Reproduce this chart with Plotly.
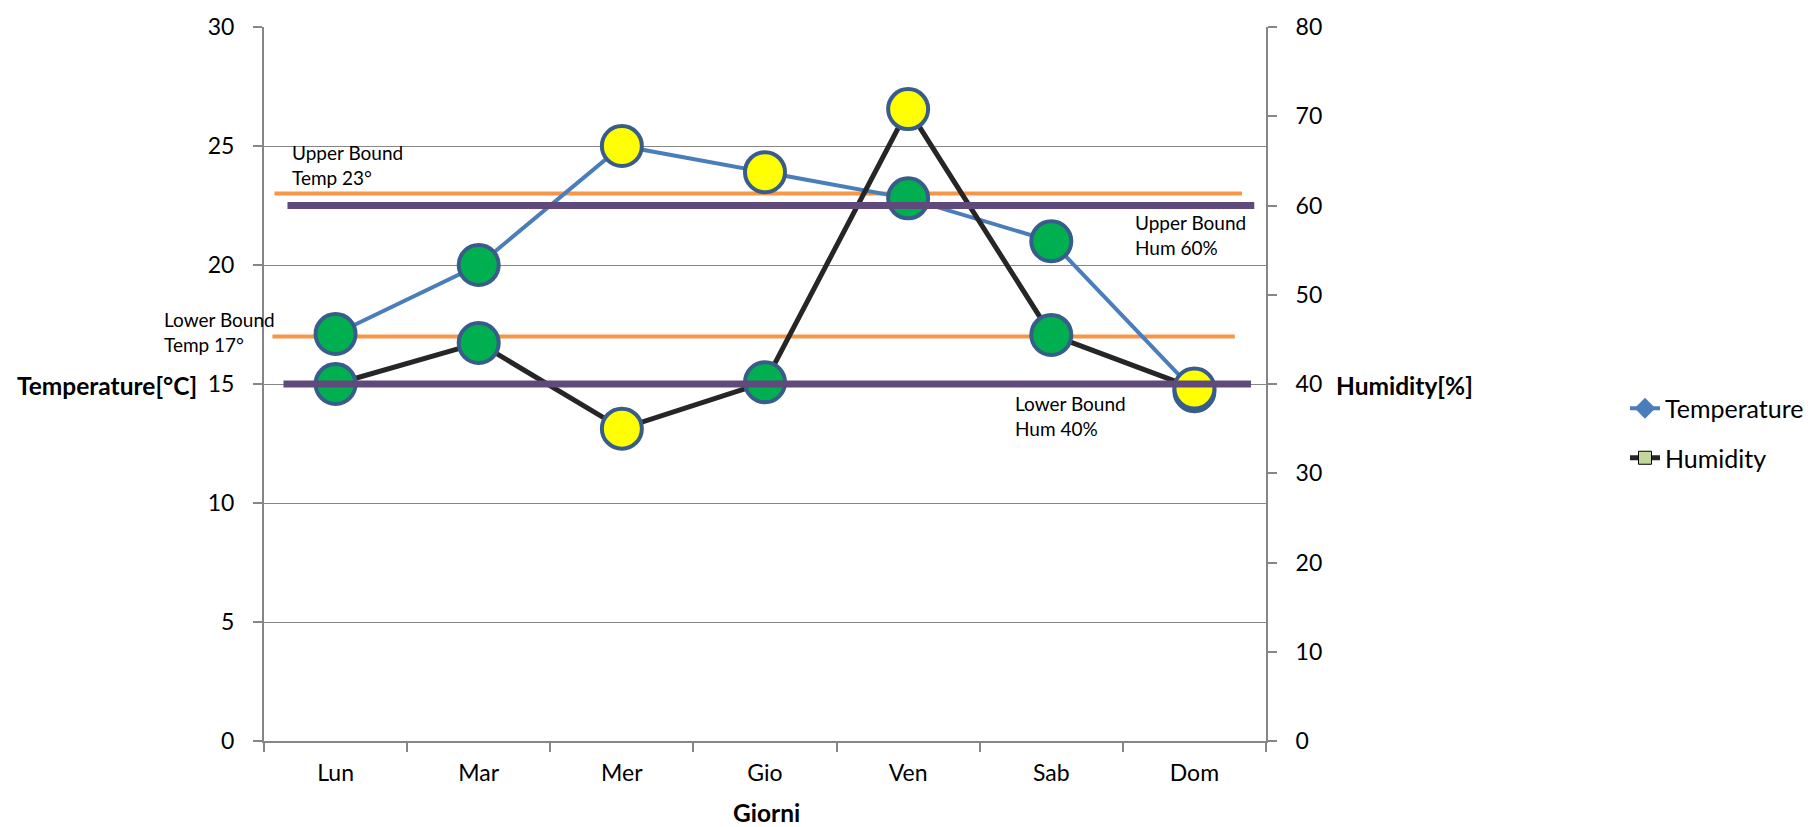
import plotly.graph_objects as go

# ---- data -------------------------------------------------------------
days = ["Lun", "Mar", "Mer", "Gio", "Ven", "Sab", "Dom"]
temperature = [17.1, 20.0, 25.0, 23.9, 22.8, 21.0, 14.7]   # °C
humidity = [40.0, 44.6, 35.0, 40.2, 70.8, 45.5, 39.5]      # %

temp_lower, temp_upper = 17, 23
hum_lower, hum_upper = 40, 60

temp_ticks = [0, 5, 10, 15, 20, 25, 30]
hum_ticks = [0, 10, 20, 30, 40, 50, 60, 70, 80]

# ---- styling ------------------------------------------------------------
FONT = "Lato"
AXIS_GREY = "#868686"
BLUE = "#4A7EBB"
BLACK_LINE = "#262626"
ORANGE = "#F79646"
PURPLE = "#604A7B"
OK_FILL = "#00B050"
OUT_FILL = "#FFFF00"
MARKER_EDGE = "#385D8A"


def status_colors(values, lo, hi):
    return [OK_FILL if lo <= v <= hi else OUT_FILL for v in values]


fig = go.Figure()

# humidity (right axis) drawn first so temperature markers sit on top
fig.add_trace(go.Scatter(
    x=days, y=humidity, yaxis="y2", mode="lines+markers", showlegend=False,
    line=dict(color=BLACK_LINE, width=5),
    marker=dict(size=40, color=status_colors(humidity, hum_lower, hum_upper),
                line=dict(color=MARKER_EDGE, width=4)),
    hoverinfo="x+y",
))
fig.add_trace(go.Scatter(
    x=days, y=temperature, yaxis="y", mode="lines+markers", showlegend=False,
    line=dict(color=BLUE, width=4),
    marker=dict(size=40, color=status_colors(temperature, temp_lower, temp_upper),
                line=dict(color=MARKER_EDGE, width=4)),
    hoverinfo="x+y",
))

# legend entries
fig.add_trace(go.Scatter(
    x=[None], y=[None], mode="lines+markers", name="Temperature",
    legendgroup="t", line=dict(color=BLUE, width=4),
    marker=dict(symbol="diamond", size=16, color=BLUE),
))
fig.add_trace(go.Scatter(
    x=[None], y=[None], mode="lines+markers", name="Humidity",
    legendgroup="h", line=dict(color=BLACK_LINE, width=5),
    marker=dict(symbol="square", size=13, color="#C3D69B",
                line=dict(color="#000000", width=1)),
))

# threshold lines
shapes = [
    dict(type="line", xref="x", yref="y", x0=-0.427, x1=6.332,
         y0=temp_upper, y1=temp_upper, line=dict(color=ORANGE, width=4),
         layer="between"),
    dict(type="line", xref="x", yref="y", x0=-0.441, x1=6.282,
         y0=temp_lower, y1=temp_lower, line=dict(color=ORANGE, width=4),
         layer="between"),
    dict(type="line", xref="x", yref="y2", x0=-0.336, x1=6.418,
         y0=hum_upper, y1=hum_upper, line=dict(color=PURPLE, width=7),
         layer="above"),
    dict(type="line", xref="x", yref="y2", x0=-0.364, x1=6.395,
         y0=hum_lower, y1=hum_lower, line=dict(color=PURPLE, width=7),
         layer="above"),
]

note_font = dict(family=FONT, size=19, color="#000000")
title_font = dict(family=FONT, size=24.5, color="#000000")


def note(text, x, y):
    return dict(text=text, xref="paper", yref="paper", x=x, y=y,
                xanchor="left", yanchor="middle", align="left",
                showarrow=False, font=note_font)


annotations = [
    note(f"Upper Bound<br>Temp {temp_upper}°", 0.0264, 0.8067),
    note(f"Lower Bound<br>Temp {temp_lower}°", -0.1013, 0.5727),
    note(f"Upper Bound<br>Hum {hum_upper}%", 0.8673, 0.7092),
    note(f"Lower Bound<br>Hum {hum_lower}%", 0.7476, 0.4549),
    dict(text="<b>Temperature[°C]</b>", xref="paper", yref="paper",
         x=-0.249, y=0.4975, xanchor="left", yanchor="middle",
         showarrow=False, font=title_font),
    dict(text="<b>Humidity[%]</b>", xref="paper", yref="paper",
         x=1.068, y=0.4975, xanchor="left", yanchor="middle",
         showarrow=False, font=title_font),
    dict(text="<b>Giorni</b>", xref="paper", yref="paper",
         x=0.501, y=-0.100, xanchor="center", yanchor="middle",
         showarrow=False, font=title_font),
]

fig.update_layout(
    width=1808, height=827,
    margin=dict(l=264, r=542, t=20, b=86, pad=0),
    paper_bgcolor="#FFFFFF", plot_bgcolor="#FFFFFF",
    font=dict(family=FONT, size=23, color="#000000"),
    shapes=shapes,
    annotations=annotations,
    xaxis=dict(
        type="category", categoryorder="array", categoryarray=days,
        range=[-0.5, 6.5], tickson="boundaries",
        ticks="outside", ticklen=9, tickwidth=1.5, tickcolor=AXIS_GREY,
        showline=True, linecolor=AXIS_GREY, linewidth=2,
        showgrid=False, zeroline=False, ticklabelstandoff=10,
        tickfont=dict(family=FONT, size=23, color="#000000"),
    ),
    yaxis=dict(
        range=[0, 30], tickvals=temp_ticks,
        ticks="outside", ticklen=9, tickwidth=1.5, tickcolor=AXIS_GREY,
        showline=True, linecolor=AXIS_GREY, linewidth=2,
        showgrid=True, gridcolor=AXIS_GREY, gridwidth=1.3,
        zeroline=False, ticklabelstandoff=14,
        tickfont=dict(family=FONT, size=23, color="#000000"),
    ),
    yaxis2=dict(
        range=[0, 80], tickvals=hum_ticks, overlaying="y", side="right",
        ticks="outside", ticklen=9, tickwidth=1.5, tickcolor=AXIS_GREY,
        showline=True, linecolor=AXIS_GREY, linewidth=2,
        showgrid=False, zeroline=False, ticklabelstandoff=14,
        tickfont=dict(family=FONT, size=23, color="#000000"),
    ),
    legend=dict(
        xref="container", yref="container", x=1625 / 1808, y=1 - 433 / 827,
        xanchor="left", yanchor="middle",
        traceorder="grouped", tracegroupgap=14,
        font=dict(family=FONT, size=25, color="#000000"),
        bgcolor="rgba(0,0,0,0)",
    ),
    hovermode="closest",
)

fig.write_html("out.html")
